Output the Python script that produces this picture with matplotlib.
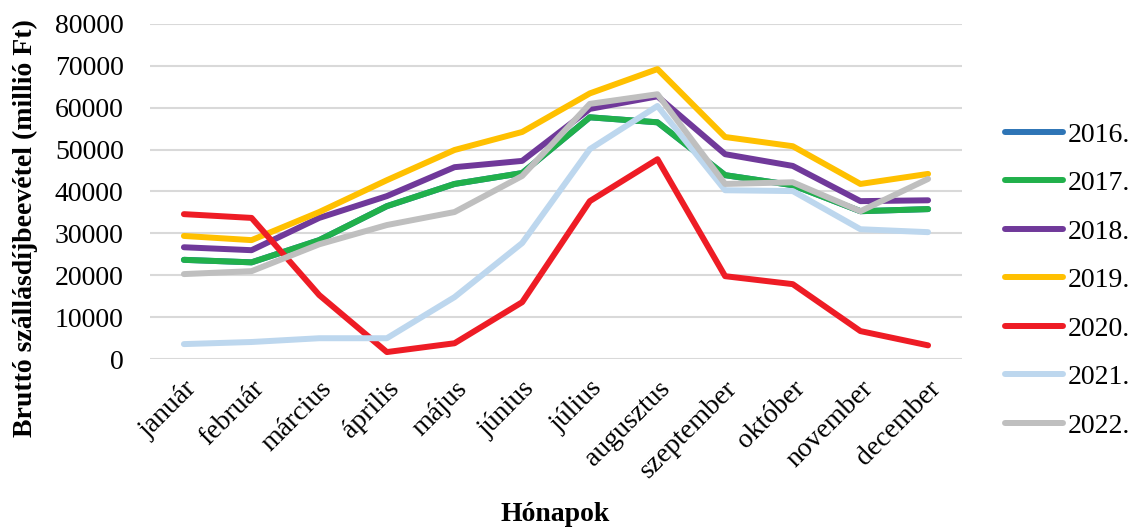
import matplotlib.pyplot as plt
import numpy as np

plt.rcParams["font.family"] = ["Liberation Serif", "DejaVu Serif"]

months = ["január", "február", "március", "április", "május", "június",
          "július", "augusztus", "szeptember", "október", "november", "december"]
years = ["2016.", "2017.", "2018.", "2019.", "2020.", "2021.", "2022."]

# 2016 line is hidden under 2017 in the source picture
y2016 = [23700, 23100, 28400, 36500, 41800, 44400, 57700, 56500, 43900, 41500, 35300, 35800]
y2017 = [23700, 23100, 28400, 36500, 41800, 44400, 57700, 56500, 43900, 41500, 35300, 35800]
y2018 = [26700, 26000, 33700, 38900, 45800, 47300, 59700, 62700, 48900, 46100, 37700, 37900]
y2019 = [29400, 28400, 35100, 42700, 49900, 54200, 63400, 69200, 53000, 50800, 41800, 44200]
y2020 = [34600, 33700, 15300, 1700, 3800, 13600, 37700, 47700, 19800, 17900, 6700, 3300]
y2021 = [3600, 4100, 5000, 5000, 14800, 27700, 50100, 60400, 40300, 40100, 31000, 30300]
y2022 = [20300, 21000, 27400, 32000, 35100, 43700, 60900, 63200, 41800, 42200, 35300, 43000]

series = [y2016, y2017, y2018, y2019, y2020, y2021, y2022]
colors = ["#2E75B6", "#21B04B", "#70399A", "#FFC000", "#EE1C25", "#BDD7EE", "#BFBFBF"]

fig = plt.figure(figsize=(11.37, 5.29), dpi=100)
ax = fig.add_axes([0.132, 0.321, 0.714, 0.634])

x = np.arange(len(months))
for label, values, color in zip(years, series, colors):
    ax.plot(x, values, color=color, linewidth=4.3, label=label, solid_capstyle="round")

ax.set_xlim(-0.5, len(months) - 0.5)
ax.set_ylim(0, 80000)
ax.set_yticks(np.arange(0, 80001, 10000))
ax.tick_params(axis="y", labelsize=20, length=0, pad=19)
ax.set_xticks(x)
ax.set_xticklabels(months, rotation=45, ha="right", rotation_mode="anchor", fontsize=20)
ax.tick_params(axis="x", length=0, pad=12)
ax.grid(axis="y", color="#d9d9d9", linewidth=1.5)
ax.set_axisbelow(True)
for spine in ax.spines.values():
    spine.set_visible(False)

fig.text(0.022, 0.568, "Bruttó szállásdíjbeevétel (millió Ft)", fontsize=20, fontweight="bold",
         rotation=90, ha="center", va="center")
fig.text(0.488, 0.027, "Hónapok", fontsize=20, fontweight="bold", ha="center", va="center")

fig.legend(loc="center left", bbox_to_anchor=(0.862, 0.47), frameon=False, fontsize=20,
           handlelength=2.1, labelspacing=0.83, handletextpad=0.15)

fig.savefig("out.png", dpi=100)
